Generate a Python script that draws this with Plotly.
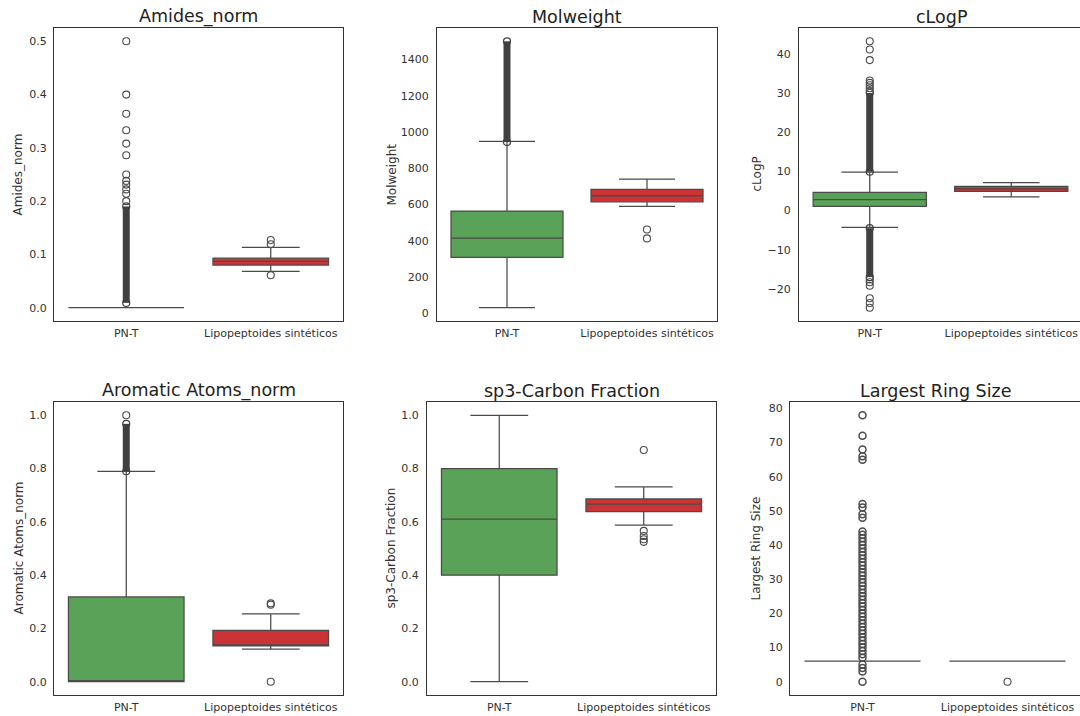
import plotly.graph_objects as go

categories = ["PN-T", "Lipopeptoides sintéticos"]
titles = ["Amides_norm", "Molweight", "cLogP",
          "Aromatic Atoms_norm", "sp3-Carbon Fraction", "Largest Ring Size"]

# box statistics per panel: [PN-T, Lipopeptoides]
q1_values = [[0.0, 0.080], [309, 615], [1.05, 4.9], [0.0, 0.134], [0.40, 0.638], [6, 6]]
median_values = [[0.0, 0.087], [415, 648], [2.8, 5.5], [0.0, 0.136], [0.61, 0.667], [6, 6]]
q3_values = [[0.0, 0.093], [564, 684], [4.65, 6.2], [0.318, 0.193], [0.80, 0.686], [6, 6]]
lower_whisker = [[0.0, 0.068], [31, 590], [-4.3, 3.5], [0.0, 0.122], [0.0, 0.588], [6, 6]]
upper_whisker = [[0.0, 0.113], [948, 740], [9.8, 7.1], [0.79, 0.255], [1.0, 0.731], [6, 6]]

# individual outliers
outliers_pnt = [
    [0.5, 0.4, 0.364, 0.333, 0.308, 0.286, 0.25, 0.238, 0.231, 0.222, 0.214, 0.2],
    [],
    [43.2, 41.1, 38.4, 33.2, 32.6, 32.0, 31.2, 30.5, -17.6, -18.3, -19.2, -22.4, -23.6, -24.8],
    [1.0],
    [],
    [0, 3, 4, 5, 7, 8, 9, 10, 11, 12, 13, 14, 15, 16, 17, 18, 19, 20, 21, 22, 23, 24,
     25, 26, 27, 28, 29, 30, 31, 32, 33, 34, 35, 36, 37, 38, 39, 40, 41, 42, 43, 44,
     48, 49, 51, 52, 65, 66, 68, 72, 78],
]
outliers_lipo = [
    [0.127, 0.119, 0.061],
    [462, 413],
    [],
    [0.294, 0.289, 0.0],
    [0.870, 0.566, 0.547, 0.535, 0.525],
    [0],
]
# ranges of PN-T outliers so dense they merge into a solid column
dense_pnt = [
    [(0.009, 0.19)],
    [(945, 1500)],
    [(9.9, 30.0), (-17.0, -4.5)],
    [(0.79, 0.968)],
    [],
    [],
]
tick_steps = [0.1, 200, 10, 0.2, 0.2, 10]
tick_formats = [".1f", "d", "d", ".1f", ".1f", "d"]

GREEN = "#59a257"
RED = "#cb3334"
LINE = "#4b4b4b"
FONT = "DejaVu Sans"

W, H = 1080, 716
# plot areas in pixels: (left, right, top, bottom)
areas = [(54, 343, 28, 321), (437, 717, 28, 321), (799, 1080, 28, 321),
         (54, 343, 402, 695), (427, 716, 402, 695), (790, 1080, 402, 695)]
title_center = [198.5, 577, 941, 198.5, 571.5, 935]
xmax = [1.5, 1.5, 1.486, 1.5, 1.5, 1.5]
ytitle_off = [36, 45, 42, 36, 37, 35]
ylabel_standoff = [4, 5, 5, 4, 5, 4]

fig = go.Figure()
annotations = []
for i in range(6):
    ax = "" if i == 0 else str(i + 1)
    xa, ya = "x" + ax, "y" + ax
    colors = [GREEN, RED]
    for j, cat in enumerate(categories):
        fig.add_trace(go.Box(
            x=[cat], q1=[q1_values[i][j]], median=[median_values[i][j]],
            q3=[q3_values[i][j]], lowerfence=[lower_whisker[i][j]],
            upperfence=[upper_whisker[i][j]],
            width=0.8, whiskerwidth=0.5, boxpoints=False,
            fillcolor=colors[j], line=dict(color=LINE, width=1.25),
            xaxis=xa, yaxis=ya, showlegend=False, hoverinfo="skip"))
    for lo, hi in dense_pnt[i]:
        fig.add_trace(go.Scatter(
            x=[categories[0], categories[0]], y=[lo, hi], mode="lines+markers",
            line=dict(color="#404040", width=7),
            marker=dict(symbol="circle-open", size=7, color="#404040",
                        line=dict(width=1.2)),
            xaxis=xa, yaxis=ya, showlegend=False, hoverinfo="skip"))
    for j, outs in enumerate([outliers_pnt[i], outliers_lipo[i]]):
        if outs:
            fig.add_trace(go.Scatter(
                x=[categories[j]] * len(outs), y=outs, mode="markers",
                marker=dict(symbol="circle-open", size=7, color=LINE,
                            line=dict(width=1.5 if i == 5 and j == 0 else 1.1)),
                xaxis=xa, yaxis=ya, showlegend=False, hoverinfo="skip"))

    allv = (lower_whisker[i] + upper_whisker[i] + outliers_pnt[i] + outliers_lipo[i]
            + [v for r in dense_pnt[i] for v in r])
    vmin, vmax = min(allv), max(allv)
    pad = (vmax - vmin) * 0.05
    l, r, t, b = areas[i]
    xdom = [l / W, r / W]
    ydom = [1 - b / H, 1 - t / H]
    right_col = i in (2, 5)
    fig.update_layout(**{
        "xaxis" + ax: dict(
            domain=xdom, range=[-0.5, xmax[i]], type="category",
            categoryorder="array", categoryarray=categories,
            anchor=ya, showgrid=False, zeroline=False,
            showline=True, linecolor="#333333", linewidth=1.25, mirror=True,
            ticks="", ticklabelstandoff=2,
            tickfont=dict(family=FONT, size=11, color="#333333")),
        "yaxis" + ax: dict(
            domain=ydom, range=[vmin - pad, vmax + pad], anchor=xa,
            showgrid=False, zeroline=False, showline=True,
            linecolor="#333333", linewidth=1.25, mirror=not right_col,
            dtick=tick_steps[i], tick0=0, tickformat=tick_formats[i],
            ticks="", ticklabelstandoff=ylabel_standoff[i],
            tickfont=dict(family=FONT, size=11, color="#333333")),
    })
    annotations.append(dict(
        text=titles[i], xref="paper", yref="paper",
        x=title_center[i] / W,
        y=ydom[1], xanchor="center", yanchor="bottom", yshift=-1,
        showarrow=False, font=dict(family=FONT, size=17.5, color="#222222")))
    annotations.append(dict(
        text=titles[i], xref="paper", yref="paper",
        x=xdom[0], y=(ydom[0] + ydom[1]) / 2, xshift=-ytitle_off[i],
        xanchor="center", yanchor="middle", textangle=-90,
        showarrow=False, font=dict(family=FONT, size=12, color="#333333")))

fig.update_layout(
    width=W, height=H, margin=dict(l=0, r=0, t=0, b=0),
    paper_bgcolor="white", plot_bgcolor="white",
    annotations=annotations, boxmode="overlay")

fig.write_html("out.html",
               config={"displayModeBar": False},
               post_script="document.body.style.margin='0px';"
                           "document.body.style.overflow='hidden';")
